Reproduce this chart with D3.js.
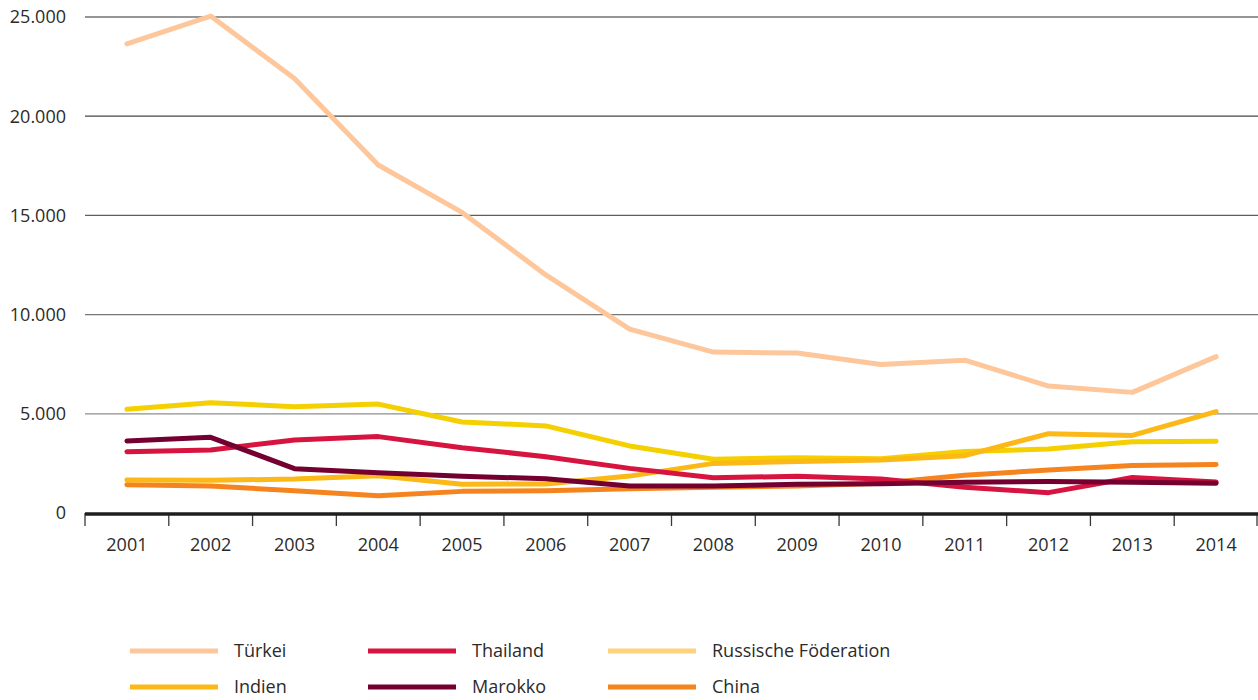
<!DOCTYPE html>
<html>
<head>
<meta charset="utf-8">
<script src="https://cdn.jsdelivr.net/npm/d3@7"></script>
<style>
  html, body { margin: 0; padding: 0; background: #fff; }
  svg { display: block; }
  text { font-family: "Open Sans", "Noto Sans", sans-serif; fill: #2b2b2b; }
</style>
</head>
<body>
<svg id="chart" width="1258" height="700"></svg>
<script>
const years = [2001, 2002, 2003, 2004, 2005, 2006, 2007, 2008, 2009, 2010, 2011, 2012, 2013, 2014];
const yTicks = [0, 5000, 10000, 15000, 20000, 25000];

const tuerkei  = [23650, 25050, 21900, 17540, 15150, 12000, 9270, 8110, 8060, 7480, 7700, 6400, 6080, 7880];
const thailand = [3090, 3175, 3680, 3850, 3290, 2840, 2250, 1780, 1850, 1710, 1300, 1025, 1790, 1560];
const russland = [5230, 5560, 5360, 5490, 4590, 4390, 3380, 2710, 2790, 2740, 3100, 3220, 3590, 3620];
const indien   = [1660, 1650, 1710, 1880, 1450, 1460, 1860, 2500, 2600, 2670, 2890, 4000, 3910, 5110];
const marokko  = [3630, 3815, 2235, 2030, 1850, 1730, 1360, 1360, 1445, 1480, 1555, 1590, 1550, 1495];
const china    = [1430, 1360, 1125, 875, 1090, 1125, 1225, 1295, 1360, 1500, 1900, 2170, 2400, 2440];

const seriesNames = ["Türkei", "Thailand", "Russische Föderation", "Indien", "Marokko", "China"];
const seriesValues = [tuerkei, thailand, russland, indien, marokko, china];
const lineColors = ["#fdc79b", "#d7133f", "#f4d000", "#fbb817", "#730030", "#f5841f"];
const legendColors = ["#fdc79b", "#d7133f", "#fed27e", "#fbb817", "#730030", "#f5841f"];
// drawing order (bottom to top)
const drawOrder = [0, 2, 5, 3, 1, 4];

const svg = d3.select("#chart");
const x = d3.scaleBand().domain(years).range([85, 1258]);
const y = d3.scaleLinear().domain([0, 25000]).range([513, 17]);
const de = d3.formatLocale({decimal: ",", thousands: ".", grouping: [3], currency: ["", "€"]});
const fmt = de.format(",");
const gridColor = d3.scaleLinear().domain([5000, 25000]).range(["#8e8e8e", "#2e2e2e"]);

// gridlines
svg.append("g").selectAll("line")
  .data(yTicks.filter(d => d > 0))
  .join("line")
  .attr("x1", 85).attr("x2", 1258)
  .attr("y1", d => y(d)).attr("y2", d => y(d))
  .attr("stroke", d => gridColor(d))
  .attr("stroke-width", 1.2);

// y labels
svg.append("g").selectAll("text")
  .data(yTicks)
  .join("text")
  .attr("x", 66)
  .attr("y", d => y(d))
  .attr("dy", "0.35em")
  .attr("text-anchor", "end")
  .style("font-size", "18px")
  .text(d => fmt(d));

// x axis ticks at band boundaries
const bounds = years.map(d => x(d)).concat([x.range()[1] - 1]);
svg.append("g").selectAll("line")
  .data(bounds)
  .join("line")
  .attr("x1", d => d).attr("x2", d => d)
  .attr("y1", 513).attr("y2", 526)
  .attr("stroke", "#3a3a3a")
  .attr("stroke-width", 1.3);

svg.append("line")
  .attr("x1", 85).attr("x2", 1258)
  .attr("y1", y(0) + 1).attr("y2", y(0) + 1)
  .attr("stroke", "#1e1e1e")
  .attr("stroke-width", 3.5);

svg.append("g").selectAll("text")
  .data(years)
  .join("text")
  .attr("x", d => x(d) + x.bandwidth() / 2)
  .attr("y", 545)
  .attr("dy", "0.35em")
  .attr("text-anchor", "middle")
  .style("font-size", "18px")
  .text(d => d);

// lines
const line = d3.line()
  .x((d, i) => x(years[i]) + x.bandwidth() / 2)
  .y(d => y(d));

svg.append("g").selectAll("path")
  .data(drawOrder)
  .join("path")
  .attr("d", i => line(seriesValues[i]))
  .attr("fill", "none")
  .attr("stroke", i => lineColors[i])
  .attr("stroke-width", 5)
  .attr("stroke-linejoin", "round")
  .attr("stroke-linecap", "round");

// legend
const legendCols = [130, 368, 608];
const legendRows = [651, 687];
const lg = svg.append("g").selectAll("g")
  .data(seriesNames)
  .join("g")
  .attr("transform", (d, i) => `translate(${legendCols[i % 3]},${legendRows[Math.floor(i / 3)]})`);
lg.append("line")
  .attr("x1", 0).attr("x2", 88)
  .attr("y1", 0).attr("y2", 0)
  .attr("stroke", (d, i) => legendColors[i])
  .attr("stroke-width", 5);
lg.append("text")
  .attr("x", 104)
  .attr("y", 0)
  .attr("dy", "0.35em")
  .style("font-size", "18px")
  .text(d => d);
</script>
</body>
</html>
